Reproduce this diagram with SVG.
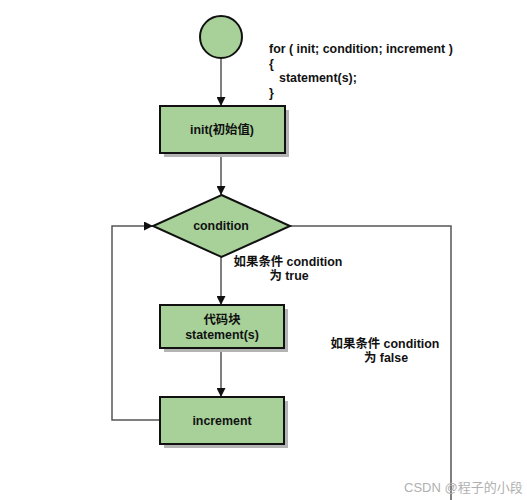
<svg xmlns="http://www.w3.org/2000/svg" width="527" height="500" viewBox="0 0 527 500">
<defs>
<style>
.n{fill:#a8d19a;stroke:#111;stroke-width:2}
.sh{fill:#b4b4b4}
.t{font-family:"Liberation Sans","Noto Sans CJK SC",Arial,sans-serif;font-weight:bold;font-size:12.4px;fill:#111}
.c{text-anchor:middle}
.e{fill:none;stroke:#555;stroke-width:1.5}
.w{font-family:"Liberation Sans","Noto Sans CJK SC",sans-serif;font-size:13px;fill:#b0b0b0}
</style>
<marker id="a" viewBox="0 0 10 10" refX="10" refY="5" markerWidth="9" markerHeight="9" markerUnits="userSpaceOnUse" orient="auto">
<path d="M0,0 L10,5 L0,10 z" fill="#111"/>
</marker>
</defs>
<rect width="527" height="500" fill="#fff"/>
<g id="connectors">
<line class="e" x1="221" y1="58" x2="221" y2="106" marker-end="url(#a)"/>
<line class="e" x1="221" y1="153" x2="221" y2="195" marker-end="url(#a)"/>
<line class="e" x1="221" y1="257" x2="221" y2="305" marker-end="url(#a)"/>
<line class="e" x1="221" y1="348" x2="221" y2="397" marker-end="url(#a)"/>
<polyline class="e" points="160,420 112,420 112,226 153,226" marker-end="url(#a)"/>
<polyline class="e" points="290,226 451,226 451,500"/>
</g>
<g id="start">
<circle class="n" cx="221" cy="37" r="21"/>
</g>
<g id="code">
<text class="t" x="269" y="53">for ( init; condition; increment )</text>
<text class="t" x="269" y="68">{</text>
<text class="t" x="279" y="82">statement(s);</text>
<text class="t" x="269" y="97">}</text>
</g>
<g id="init">
<rect class="sh" x="164" y="110" width="125" height="47"/>
<rect class="n" x="160" y="106" width="125" height="47"/>
<text class="t c" x="222" y="134">init(初始值)</text>
</g>
<g id="condition">
<polygon class="n" points="221.5,195 290,226 221.5,257 153,226"/>
<text class="t c" x="221" y="230">condition</text>
</g>
<g id="true-label">
<text class="t c" x="288" y="266">如果条件 condition</text>
<text class="t c" x="289" y="280">为 true</text>
</g>
<g id="statement">
<rect class="sh" x="164" y="309" width="124" height="43"/>
<rect class="n" x="160" y="305" width="124" height="43"/>
<text class="t c" x="222" y="324">代码块</text>
<text class="t c" x="222" y="339">statement(s)</text>
</g>
<g id="false-label">
<text class="t c" x="385" y="348">如果条件 condition</text>
<text class="t c" x="386" y="362">为 false</text>
</g>
<g id="increment">
<rect class="sh" x="164" y="401" width="124" height="47"/>
<rect class="n" x="160" y="397" width="124" height="47"/>
<text class="t c" x="222" y="425">increment</text>
</g>
<text class="w" x="404" y="492">CSDN @程子的小段</text>
</svg>
